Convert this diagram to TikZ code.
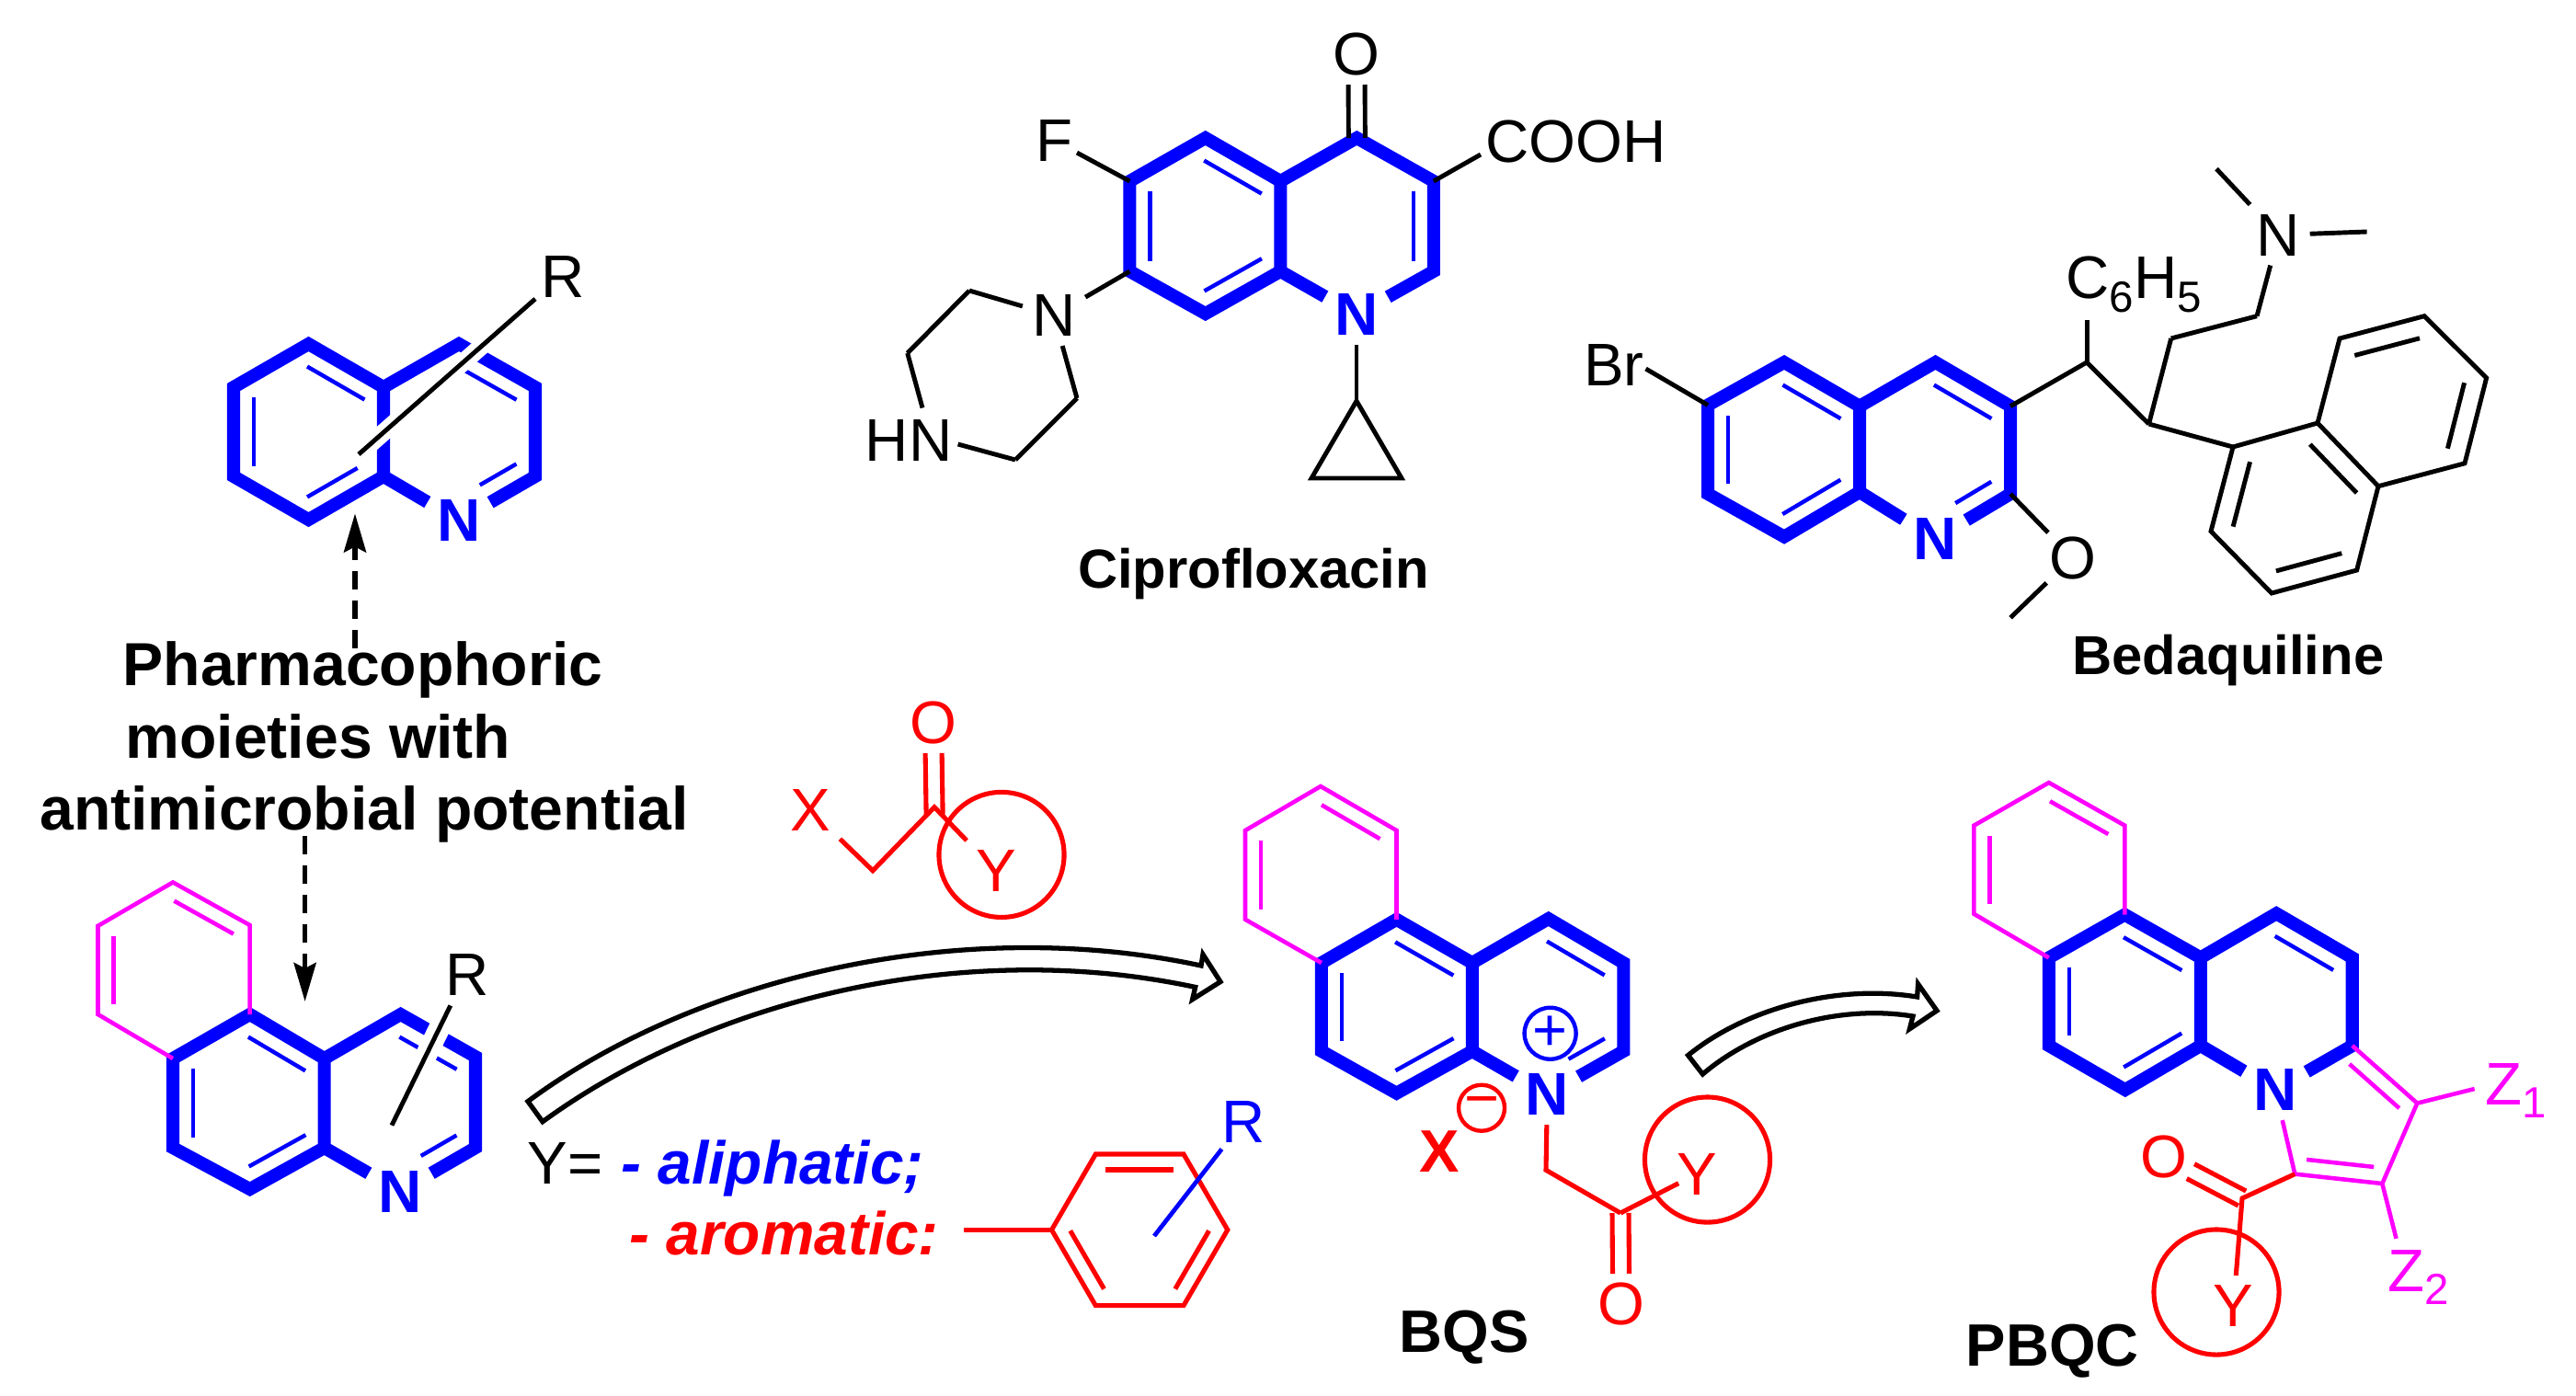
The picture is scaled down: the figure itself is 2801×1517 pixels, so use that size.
\documentclass[tikz,border=0pt]{standalone}
\usepackage{fontspec}
\setmainfont{Liberation Sans}
\usepackage{tikz}
\usetikzlibrary{arrows.meta, calc}

\definecolor{puremagenta}{RGB}{255,0,255}
\tikzset{
  qbond/.style={draw=blue, line width=4pt},
  tbond/.style={draw=blue, line width=1.25pt},
  kbond/.style={draw=black, line width=1.4pt},
  rbond/.style={draw=red, line width=1.45pt},
  mbond/.style={draw=puremagenta, line width=1.3pt},
  halo/.style={preaction={draw, white, line width=#1}},
  atom/.style={inner sep=2.8pt, font=\fontsize{18.6}{20}\selectfont},
  tightatom/.style={atom, inner sep=1pt},
  natom/.style={atom, text=blue, font=\bfseries\fontsize{18.6}{20}\selectfont},
  textlabel/.style={inner sep=0pt, anchor=base west, font=\fontsize{18.6}{20}\selectfont},
  molname/.style={inner sep=0pt, anchor=base, font=\bfseries\fontsize{18.5}{20}\selectfont},
  drugname/.style={molname, font=\bfseries\fontsize{17}{20}\selectfont},
  midtext/.style={molname, font=\bfseries\fontsize{18.8}{20}\selectfont},
  ycircle/.style={circle, draw=red, line width=1.45pt, minimum size=1.36cm, inner sep=0pt},
  chargecircle/.style={circle, line width=1.25pt, inner sep=0pt, font=\fontsize{18.5}{20}\selectfont},
  dasharrow/.style={draw=black, line width=1.6pt, dash pattern=on .2cm off .12cm,
    -{Stealth[length=.42cm, width=.24cm, inset=.06cm]}},
  hollowarrow/.style={draw=black, line width=1.5pt, miter limit=20}
}
\newcommand{\dbondg}[4]{\draw[shorten <=.11cm, shorten >=.11cm, #1] ($(#3.center)!#2!90:(#4.center)$) -- ($(#4.center)!#2!-90:(#3.center)$);}
\newcommand{\dbond}[3][tbond]{\dbondg{#1}{.22cm}{#2}{#3}}
\newcommand{\mdbond}[3][mbond]{\dbondg{#1}{.17cm}{#2}{#3}}
\newcommand{\cobond}[3][kbond]{
  \draw[shorten >=.33cm, #1] ($(#2.center)!.09cm!90:(#3.center)$) -- ($(#3.center)!.09cm!-90:(#2.center)$);
  \draw[shorten >=.33cm, #1] ($(#2.center)!.09cm!-90:(#3.center)$) -- ($(#3.center)!.09cm!90:(#2.center)$);}
\newcommand{\atomsub}[1]{\raisebox{-4.2pt}{\fontsize{13.5}{13.5}\selectfont #1}}

\begin{document}
\begin{tikzpicture}[x=0.01cm, y=-0.01cm]
    \useasboundingbox (0,0) rectangle (2801,1517);

    % quinoline, top left
    \coordinate (a_1) at (335.5,374);
    \coordinate (a_2) at (254,421);
    \coordinate (a_3) at (254,518);
    \coordinate (a_4) at (335.5,565);
    \coordinate (a_5) at (417,518);
    \coordinate (a_6) at (417,421);
    \coordinate (a_7) at (499,374);
    \coordinate (a_8) at (582,421);
    \coordinate (a_9) at (582,518);
    \coordinate (a_r1) at (582,325);
    \coordinate (a_r2) at (390,494);
    \node[natom] (a_n) at (499,566) {N};
    \node[atom] (a_r) at (612,301) {R};

    \draw[qbond] (a_6) -- (a_1) -- (a_2) -- (a_3) -- (a_4) -- (a_5) -- cycle;
    \draw[qbond] (a_6) -- (a_7) -- (a_8) -- (a_9) -- (a_n);
    \draw[qbond] (a_5) -- (a_n);
    \dbond{a_2}{a_3}
    \dbond[tbond, shorten >=.2cm]{a_4}{a_5}
    \dbond{a_6}{a_1}
    \dbond[tbond, shorten <=.39cm]{a_n}{a_9}
    \dbond{a_8}{a_7}
    \draw[kbond, halo=5.4pt] (a_r1) -- (a_r2);

    % ciprofloxacin
    \coordinate (c_1) at (1310.7,150);
    \coordinate (c_2) at (1228.4,197);
    \coordinate (c_3) at (1228.4,295);
    \coordinate (c_4) at (1310.7,341);
    \coordinate (c_5) at (1392.3,295);
    \coordinate (c_6) at (1392.3,197);
    \coordinate (c_7) at (1475.3,150);
    \coordinate (c_8) at (1558.8,197);
    \coordinate (c_9) at (1558.8,295);
    \coordinate (c_ac) at (1610,168);
    \coordinate (c_p1) at (1054,316);
    \coordinate (c_p2) at (986.7,384);
    \coordinate (c_p3) at (1003,443.5);
    \coordinate (c_p4) at (1041.6,483);
    \coordinate (c_p5) at (1104,500);
    \coordinate (c_p6) at (1171,433);
    \coordinate (c_t1) at (1475,436);
    \coordinate (c_t2) at (1426,520);
    \coordinate (c_t3) at (1524,520);
    \node[natom] (c_n) at (1475,342) {N};
    \node[atom] (c_o) at (1475,59) {O};
    \node[tightatom] (c_f) at (1146.8,153) {F};
    \node[atom] (c_cooh) at (1713.8,154) {COOH};
    \node[atom] (c_n2) at (1146,343) {N};
    \node[atom] (c_hn) at (988,479) {HN};
    \node[drugname] (c_name) at (1363,639) {Ciprofloxacin};

    \draw[qbond] (c_6) -- (c_1) -- (c_2) -- (c_3) -- (c_4) -- (c_5) -- cycle;
    \draw[qbond] (c_6) -- (c_7) -- (c_8) -- (c_9) -- (c_n);
    \draw[qbond] (c_5) -- (c_n);
    \dbond{c_2}{c_3}
    \dbond{c_4}{c_5}
    \dbond{c_6}{c_1}
    \dbond{c_9}{c_8}
    \cobond{c_7}{c_o}
    \path[kbond]
    (c_2) edge (c_f)
    (c_8) edge (c_ac)
    (c_3) edge (c_n2)
    (c_n) edge (c_t1)
    (c_n2) edge (c_p1)
    (c_p1) edge (c_p2)
    (c_p2) edge (c_p3)
    (c_p4) edge (c_p5)
    (c_p5) edge (c_p6)
    (c_p6) edge (c_n2);
    \draw[kbond] (c_t1) -- (c_t2) -- (c_t3) -- cycle;

    % bedaquiline
    \coordinate (b_1) at (1940,394);
    \coordinate (b_2) at (1857,440.5);
    \coordinate (b_3) at (1857,537);
    \coordinate (b_4) at (1940,583.6);
    \coordinate (b_5) at (2022,535);
    \coordinate (b_6) at (2022,441.7);
    \coordinate (b_7) at (2104.5,394);
    \coordinate (b_8) at (2186,441.7);
    \coordinate (b_9) at (2186,537);
    \coordinate (b_bre) at (1789.5,401);
    \coordinate (b_me) at (2186,671.7);
    \coordinate (b_s1) at (2269,394);
    \coordinate (b_s1e) at (2269,347.6);
    \coordinate (b_s2) at (2336.5,461);
    \coordinate (b_s3) at (2360.7,368);
    \coordinate (b_s4) at (2454,343.7);
    \coordinate (b_me1) at (2410,183.6);
    \coordinate (b_me2) at (2573.6,252);
    \coordinate (f_1) at (2428,486);
    \coordinate (f_2) at (2520,460);
    \coordinate (f_3) at (2544,368);
    \coordinate (f_4) at (2636,343.7);
    \coordinate (f_5) at (2703.6,411);
    \coordinate (f_6) at (2680,503.8);
    \coordinate (f_7) at (2586,528.7);
    \coordinate (f_8) at (2562.6,620);
    \coordinate (f_9) at (2470,645);
    \coordinate (f_10) at (2404,577.7);
    \node[natom] (b_n) at (2104,586) {N};
    \node[tightatom] (b_o) at (2253.5,606.5) {O};
    \node[atom] (b_n2) at (2477.5,255.5) {N};
    \node[atom] (b_br) at (1755,397) {Br};
    \node[textlabel] (b_ph) at (2246,324.7) {C\atomsub{6}H\atomsub{5}};
    \node[drugname] (b_name) at (2422.8,733) {Bedaquiline};

    \draw[qbond] (b_6) -- (b_1) -- (b_2) -- (b_3) -- (b_4) -- (b_5) -- cycle;
    \draw[qbond] (b_6) -- (b_7) -- (b_8) -- (b_9) -- (b_n);
    \draw[qbond] (b_5) -- (b_n);
    \dbond{b_2}{b_3}
    \dbond{b_4}{b_5}
    \dbond{b_6}{b_1}
    \dbond[tbond, shorten <=.39cm]{b_n}{b_9}
    \dbond{b_8}{b_7}
    \path[kbond]
    (b_2) edge (b_bre)
    (b_9) edge (b_o)
    (b_o) edge (b_me)
    (b_8) edge (b_s1)
    (b_s1) edge (b_s1e)
    (b_s1) edge (b_s2)
    (b_s2) edge (b_s3)
    (b_s3) edge (b_s4)
    (b_s4) edge (b_n2)
    (b_n2) edge (b_me1)
    (b_n2) edge (b_me2)
    (b_s2) edge (f_1);
    \draw[kbond] (f_1) -- (f_2) -- (f_3) -- (f_4) -- (f_5) -- (f_6) -- (f_7) -- (f_8) -- (f_9) -- (f_10) -- cycle;
    \draw[kbond] (f_2) -- (f_7);
    \dbond[kbond]{f_1}{f_10}
    \dbond[kbond]{f_9}{f_8}
    \dbond[kbond]{f_7}{f_2}
    \dbond[kbond]{f_6}{f_5}
    \dbond[kbond]{f_4}{f_3}

    % dashed arrows and the middle text
    \node[midtext] (t_1) at (394.4,745) {Pharmacophoric};
    \node[midtext] (t_2) at (346,824.4) {moieties with};
    \node[midtext] (t_3) at (396,902.6) {antimicrobial potential};
    \coordinate (t_up1) at (386,705);
    \coordinate (t_up2) at (386,558.4);
    \coordinate (t_dn1) at (331.6,909);
    \coordinate (t_dn2) at (331.6,1089);
    \draw[dasharrow] (t_up1) -- (t_up2);
    \draw[dasharrow] (t_dn1) -- (t_dn2);

    % benzoquinoline, bottom left
    \coordinate (d_1) at (271.7,1103);
    \coordinate (d_2) at (188,1151);
    \coordinate (d_3) at (188,1248);
    \coordinate (d_4) at (271.7,1293);
    \coordinate (d_5) at (352.7,1248);
    \coordinate (d_6) at (352.7,1151);
    \coordinate (d_7) at (435.6,1103);
    \coordinate (d_8) at (517,1149);
    \coordinate (d_9) at (517,1248);
    \coordinate (m_1) at (188,959.4);
    \coordinate (m_2) at (106.5,1006.8);
    \coordinate (m_3) at (106.5,1103);
    \coordinate (m_5) at (271.7,1006);
    \coordinate (d_r1) at (489.8,1093.4);
    \coordinate (d_r2) at (426,1223.6);
    \node[natom] (d_n) at (435,1295.5) {N};
    \node[atom] (d_r) at (508,1059.7) {R};

    \draw[qbond] (d_6) -- (d_1) -- (d_2) -- (d_3) -- (d_4) -- (d_5) -- cycle;
    \draw[qbond] (d_6) -- (d_7) -- (d_8) -- (d_9) -- (d_n);
    \draw[qbond] (d_5) -- (d_n);
    \dbond{d_2}{d_3}
    \dbond{d_4}{d_5}
    \dbond{d_6}{d_1}
    \dbond[tbond, shorten <=.39cm]{d_n}{d_9}
    \dbond{d_8}{d_7}
    \draw[mbond] (d_2) -- (m_3) -- (m_2) -- (m_1) -- (m_5) -- (d_1);
    \mdbond{m_2}{m_3}
    \mdbond{m_5}{m_1}
    \draw[kbond, halo=6.6pt] (d_r1) -- (d_r2);

    % reagent
    \coordinate (r_1) at (949,946.7);
    \coordinate (r_c) at (1016,877.7);
    \node[atom, text=red] (r_x) at (881,881) {X};
    \node[atom, text=red] (r_o) at (1014.6,786) {O};
    \node[atom, text=red] (r_y) at (1083,947) {Y};
    \node[ycircle] (r_ring) at (1089,929.4) {};
    \draw[rbond] (r_x) -- (r_1) -- (r_c) -- (r_y);
    \cobond[rbond, shorten <=-.08cm]{r_c}{r_o}

    % long arrow
    \coordinate (l_1) at (574,1197.6);
    \coordinate (l_2) at (1306,1050);
    \coordinate (l_3) at (1308,1037.8);
    \coordinate (l_4) at (1327,1067.5);
    \coordinate (l_5) at (1296.6,1086.7);
    \coordinate (l_6) at (1299.7,1073.4);
    \coordinate (l_7) at (590,1219.7);
    \draw[hollowarrow] (l_1) .. controls (760,1060) and (1050,995) .. (l_2) -- (l_3) -- (l_4) -- (l_5) -- (l_6)
    .. controls (1050,1020) and (775,1085) .. (l_7) -- cycle;

    % side groups
    \node[textlabel] (y_eq) at (573,1287) {Y=};
    \node[textlabel, text=blue, font=\bfseries\itshape\fontsize{18.7}{20}\selectfont] (y_ali) at (675,1287) {- aliphatic;};
    \node[textlabel, text=red, font=\bfseries\itshape\fontsize{18.7}{20}\selectfont] (y_aro) at (684,1364) {- aromatic:};
    \coordinate (h_0) at (1047.8,1337.3);
    \coordinate (h_1) at (1143.5,1337.3);
    \coordinate (h_2) at (1191.3,1255);
    \coordinate (h_3) at (1287,1255);
    \coordinate (h_4) at (1334.8,1337.3);
    \coordinate (h_5) at (1287,1419.6);
    \coordinate (h_6) at (1191.3,1419.6);
    \coordinate (h_r1) at (1328.4,1249.5);
    \coordinate (h_r2) at (1255,1344);
    \node[atom, text=blue] (h_r) at (1352,1219.8) {R};
    \draw[rbond] (h_1) -- (h_2) -- (h_3) -- (h_4) -- (h_5) -- (h_6) -- cycle;
    \draw[rbond] (h_0) -- (h_1);
    \mdbond[rbond]{h_1}{h_6}
    \mdbond[rbond]{h_5}{h_4}
    \mdbond[rbond]{h_3}{h_2}
    \draw[tbond, line width=1.35pt] (h_r1) -- (h_r2);

    % BQS
    \coordinate (e_1) at (1436,855);
    \coordinate (e_2) at (1354,903);
    \coordinate (e_3) at (1354,999.8);
    \coordinate (e_5) at (1518.5,903);
    \coordinate (g_1) at (1518.5,999.8);
    \coordinate (g_2) at (1436.9,1047);
    \coordinate (g_3) at (1436.9,1143);
    \coordinate (g_4) at (1518.5,1188.7);
    \coordinate (g_5) at (1600.8,1143);
    \coordinate (g_6) at (1600.8,1047);
    \coordinate (g_7) at (1683.7,999);
    \coordinate (g_8) at (1765.3,1047);
    \coordinate (g_9) at (1765.3,1143);
    \coordinate (g_ch) at (1681,1272.3);
    \coordinate (g_c) at (1762,1319);
    \node[natom] (g_n) at (1682.4,1190) {N};
    \node[chargecircle, draw=blue, text=blue, minimum size=.56cm] (g_plus) at (1685.6,1123.7) {+};
    \node[chargecircle, draw=red, text=red, minimum size=.5cm] (g_minus) at (1611,1204.7) {−};
    \node[molname, text=red] (g_x) at (1565,1274) {X};
    \node[atom, text=red] (g_y) at (1845,1276.5) {Y};
    \node[atom, text=red] (g_o) at (1762.7,1418) {O};
    \node[ycircle] (g_ring) at (1856.5,1261) {};
    \node[molname] (g_name) at (1592,1470) {BQS};

    \draw[qbond] (g_6) -- (g_1) -- (g_2) -- (g_3) -- (g_4) -- (g_5) -- cycle;
    \draw[qbond] (g_6) -- (g_7) -- (g_8) -- (g_9) -- (g_n);
    \draw[qbond] (g_5) -- (g_n);
    \dbond{g_2}{g_3}
    \dbond{g_4}{g_5}
    \dbond{g_6}{g_1}
    \dbond[tbond, shorten <=.39cm]{g_n}{g_9}
    \dbond{g_8}{g_7}
    \draw[mbond] (g_2) -- (e_3) -- (e_2) -- (e_1) -- (e_5) -- (g_1);
    \mdbond{e_2}{e_3}
    \mdbond{e_5}{e_1}
    \draw[rbond] (g_n) -- (g_ch) -- (g_c);
    \path[rbond] (g_c) edge[shorten >=-.14cm] (g_y);
    \cobond[rbond]{g_c}{g_o}

    % short arrow
    \coordinate (s_1) at (1835.5,1147.5);
    \coordinate (s_2) at (2084.6,1084);
    \coordinate (s_3) at (2085.6,1070);
    \coordinate (s_4) at (2106,1099);
    \coordinate (s_5) at (2076.4,1118.8);
    \coordinate (s_6) at (2080,1105);
    \coordinate (s_7) at (1851.4,1168);
    \draw[hollowarrow] (s_1) .. controls (1900,1095) and (2000,1070) .. (s_2) -- (s_3) -- (s_4) -- (s_5) -- (s_6)
    .. controls (2000,1092) and (1910,1118) .. (s_7) -- cycle;

    % PBQC
    \coordinate (n_1) at (2227.8,851);
    \coordinate (n_2) at (2146.4,897.6);
    \coordinate (n_3) at (2146.4,993.8);
    \coordinate (n_5) at (2310.3,897.6);
    \coordinate (k_1) at (2310.3,994.6);
    \coordinate (k_2) at (2227.8,1041.4);
    \coordinate (k_3) at (2227.8,1137);
    \coordinate (k_4) at (2310.8,1185);
    \coordinate (k_5) at (2392.8,1137);
    \coordinate (k_6) at (2392.8,1041.4);
    \coordinate (k_7) at (2475.2,993.3);
    \coordinate (k_8) at (2557.7,1041.4);
    \coordinate (k_9) at (2557.7,1137);
    \coordinate (z_1) at (2628.3,1199.6);
    \coordinate (z_2) at (2590.3,1287);
    \coordinate (z_3) at (2495.3,1276.6);
    \coordinate (z_1e) at (2690.6,1184);
    \coordinate (z_2e) at (2605.5,1346.8);
    \coordinate (k_c) at (2438,1303);
    \node[natom] (k_n) at (2474,1185) {N};
    \node[atom, text=red] (k_o) at (2352.6,1258.3) {O};
    \node[atom, text=red] (k_y) at (2428.6,1420) {Y};
    \node[ycircle] (k_ring) at (2410,1405) {};
    \node[textlabel, text=puremagenta] (z_a) at (2701.5,1201) {Z\atomsub{1}};
    \node[textlabel, text=puremagenta] (z_b) at (2595.7,1404) {Z\atomsub{2}};
    \node[molname] (k_name) at (2231.6,1485) {PBQC};

    \draw[qbond] (k_6) -- (k_1) -- (k_2) -- (k_3) -- (k_4) -- (k_5) -- cycle;
    \draw[qbond] (k_6) -- (k_7) -- (k_8) -- (k_9) -- (k_n);
    \draw[qbond] (k_5) -- (k_n);
    \dbond{k_2}{k_3}
    \dbond{k_4}{k_5}
    \dbond{k_6}{k_1}
    \dbond{k_8}{k_7}
    \draw[mbond] (k_2) -- (n_3) -- (n_2) -- (n_1) -- (n_5) -- (k_1);
    \mdbond{n_2}{n_3}
    \mdbond{n_5}{n_1}
    \draw[mbond] (k_9) -- (z_1) -- (z_2) -- (z_3) -- (k_n);
    \mdbond{z_3}{z_2}
    \mdbond{z_1}{k_9}
    \path[mbond]
    (z_1) edge (z_1e)
    (z_2) edge (z_2e);
    \draw[rbond] (z_3) -- (k_c) -- (k_y);
    \cobond[rbond]{k_c}{k_o}
\end{tikzpicture}
\end{document}
